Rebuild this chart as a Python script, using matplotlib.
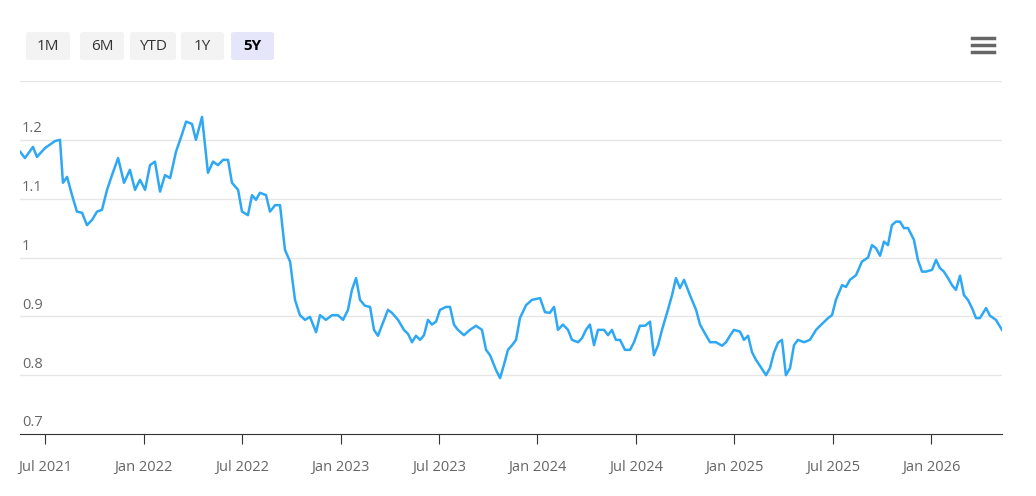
import matplotlib
matplotlib.use("Agg")
import matplotlib.pyplot as plt
from matplotlib.patches import FancyBboxPatch

# dates as decimal years
dates = [2021.373,2021.398,2021.439,2021.459,2021.500,2021.551,2021.576,2021.591,2021.612,2021.637,2021.662,2021.688,2021.713,2021.739,2021.764,2021.789,2021.815,2021.840,2021.871,2021.901,2021.931,2021.957,2021.982,2022.008,2022.033,2022.058,2022.084,2022.109,2022.135,2022.165,2022.195,2022.216,2022.246,2022.266,2022.297,2022.327,2022.353,2022.378,2022.404,2022.429,2022.449,2022.480,2022.500,2022.530,2022.551,2022.571,2022.591,2022.622,2022.642,2022.668,2022.693,2022.718,2022.744,2022.769,2022.794,2022.820,2022.845,2022.876,2022.896,2022.926,2022.957,2022.987,2023.013,2023.038,2023.058,2023.079,2023.099,2023.124,2023.150,2023.170,2023.190,2023.221,2023.241,2023.261,2023.292,2023.322,2023.343,2023.363,2023.383,2023.404,2023.424,2023.444,2023.464,2023.485,2023.505,2023.536,2023.556,2023.576,2023.596,2023.627,2023.657,2023.688,2023.718,2023.739,2023.759,2023.789,2023.810,2023.830,2023.850,2023.871,2023.891,2023.911,2023.942,2023.972,2024.013,2024.038,2024.063,2024.084,2024.104,2024.129,2024.155,2024.175,2024.206,2024.226,2024.246,2024.266,2024.287,2024.307,2024.338,2024.358,2024.378,2024.398,2024.419,2024.444,2024.470,2024.490,2024.520,2024.546,2024.571,2024.591,2024.612,2024.632,2024.662,2024.683,2024.703,2024.723,2024.744,2024.774,2024.805,2024.825,2024.855,2024.876,2024.906,2024.937,2024.957,2024.977,2024.997,2025.028,2025.048,2025.069,2025.089,2025.109,2025.129,2025.160,2025.180,2025.201,2025.221,2025.241,2025.261,2025.282,2025.302,2025.322,2025.353,2025.383,2025.414,2025.444,2025.475,2025.495,2025.515,2025.546,2025.566,2025.586,2025.617,2025.647,2025.678,2025.698,2025.718,2025.739,2025.759,2025.779,2025.799,2025.820,2025.840,2025.860,2025.881,2025.911,2025.931,2025.952,2025.972,2026.003,2026.023,2026.043,2026.063,2026.084,2026.104,2026.124,2026.145,2026.165,2026.185,2026.206,2026.226,2026.246,2026.277,2026.297,2026.327,2026.358]
values = [1.180,1.169,1.188,1.171,1.186,1.198,1.200,1.127,1.137,1.106,1.078,1.076,1.055,1.064,1.078,1.081,1.115,1.140,1.169,1.127,1.149,1.115,1.132,1.115,1.157,1.163,1.112,1.140,1.135,1.180,1.209,1.231,1.227,1.200,1.239,1.144,1.163,1.157,1.166,1.166,1.127,1.115,1.078,1.072,1.106,1.098,1.110,1.106,1.078,1.089,1.089,1.013,0.993,0.928,0.902,0.894,0.899,0.873,0.902,0.894,0.902,0.902,0.894,0.911,0.945,0.965,0.928,0.918,0.916,0.877,0.867,0.894,0.911,0.906,0.894,0.877,0.870,0.856,0.867,0.860,0.868,0.894,0.886,0.891,0.911,0.916,0.916,0.886,0.877,0.868,0.877,0.884,0.877,0.843,0.834,0.809,0.795,0.818,0.843,0.851,0.860,0.897,0.919,0.928,0.931,0.907,0.906,0.916,0.877,0.886,0.877,0.860,0.856,0.863,0.877,0.886,0.851,0.877,0.877,0.868,0.877,0.860,0.860,0.843,0.843,0.856,0.884,0.884,0.891,0.834,0.851,0.877,0.911,0.936,0.965,0.948,0.962,0.936,0.911,0.886,0.868,0.856,0.856,0.850,0.856,0.867,0.877,0.874,0.860,0.867,0.839,0.826,0.816,0.800,0.812,0.839,0.855,0.860,0.800,0.812,0.851,0.860,0.856,0.860,0.877,0.887,0.897,0.902,0.928,0.953,0.950,0.962,0.970,0.993,1.000,1.021,1.016,1.003,1.027,1.021,1.055,1.061,1.061,1.050,1.050,1.030,0.996,0.976,0.976,0.979,0.996,0.982,0.976,0.965,0.953,0.945,0.969,0.936,0.928,0.914,0.897,0.897,0.914,0.901,0.894,0.877]

xtick_pos = [2021.5,2022.0,2022.5,2023.0,2023.5,2024.0,2024.5,2025.0,2025.5,2026.0]
xtick_labels = ["Jul 2021","Jan 2022","Jul 2022","Jan 2023","Jul 2023","Jan 2024","Jul 2024","Jan 2025","Jul 2025","Jan 2026"]
ytick_vals = [0.7,0.8,0.9,1.0,1.1,1.2]
ytick_labels = ["0.7","0.8","0.9","1","1.1","1.2"]
buttons = ["1M","6M","YTD","1Y","5Y"]

plt.rcParams['font.family'] = ['Open Sans', 'DejaVu Sans']
fig = plt.figure(figsize=(10.36,4.96), dpi=100)
W, H = 1036, 496
ax = fig.add_axes([20/W, 62/H, 982/W, 353/H])
ax.plot(dates, values, color='#2ea8f4', lw=1.8, solid_joinstyle='round')
ax.set_xlim(2021.373, 2026.358)
ax.set_ylim(0.7, 1.3)
for v in ytick_vals[1:] + [1.3]:
    ax.axhline(v, color='#e6e6e6', lw=1, zorder=0)
for v, l in zip(ytick_vals, ytick_labels):
    ax.text(0.002, v + 0.006, l, transform=ax.get_yaxis_transform(), fontsize=10.5, color='#666666', va='bottom', ha='left')
ax.set_yticks([])
for s in ['top','right','left']:
    ax.spines[s].set_visible(False)
ax.spines['bottom'].set_color('#333333')
ax.set_xticks(xtick_pos)
ax.set_xticklabels(xtick_labels, fontsize=10.5, color='#666666')
ax.tick_params(axis='x', length=7, color='#333333', pad=12)

# range selector buttons
bx = [(26,70),(80,124),(130,176),(181,224),(231,274)]
for (x0,x1), b in zip(bx, buttons):
    sel = b == "5Y"
    fig.patches.append(FancyBboxPatch((x0/W, (496-60)/H), (x1-x0)/W, 28/H,
        boxstyle="round,pad=0,rounding_size=0.004", transform=fig.transFigure,
        facecolor='#e6e6fb' if sel else '#f3f3f3', edgecolor='none'))
    fig.text((x0+x1)/2/W, (496-46)/H, b, ha='center', va='center', fontsize=11,
             color='#000000' if sel else '#333333', fontweight='bold' if sel else 'normal')
# hamburger
for dy in [38, 45, 52]:
    fig.add_artist(plt.Line2D([972/W, 994/W], [(496-dy)/H]*2, color='#666666', lw=2.5, transform=fig.transFigure))

fig.savefig("out.png", dpi=100, facecolor='white')
